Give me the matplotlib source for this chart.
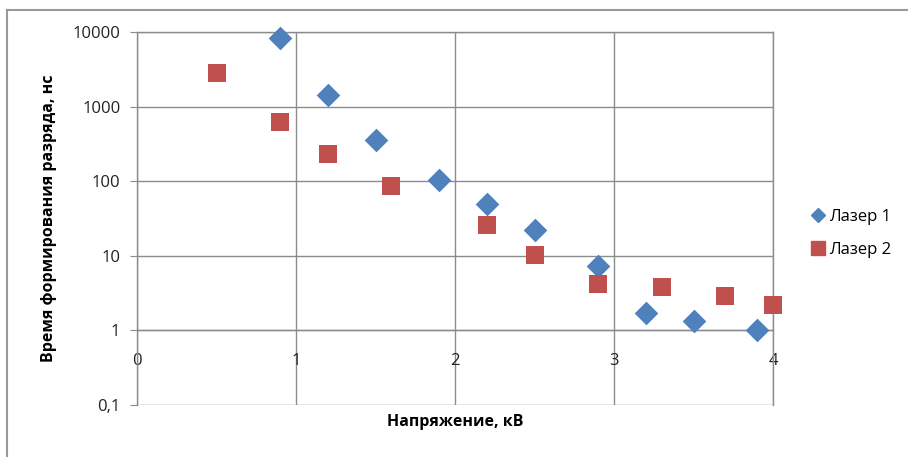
import matplotlib

matplotlib.use("Agg")
import matplotlib.pyplot as plt
from matplotlib.lines import Line2D
from matplotlib.ticker import FixedLocator, FixedFormatter, NullLocator

plt.rcParams["font.family"] = ["Open Sans", "DejaVu Sans"]

# data
laser1_kv = [0.9, 1.2, 1.5, 1.9, 2.2, 2.5, 2.9, 3.2, 3.5, 3.9]
laser1_ns = [8400, 1450, 360, 105, 50, 22.5, 7.2, 1.7, 1.35, 1.0]
laser2_kv = [0.5, 0.9, 1.2, 1.6, 2.2, 2.5, 2.9, 3.3, 3.7, 4.0]
laser2_ns = [2800, 630, 230, 87, 25.5, 10.4, 4.2, 3.8, 2.85, 2.2]

y_ticks = [0.1, 1, 10, 100, 1000, 10000]
y_labels = ["0,1", "1", "10", "100", "1000", "10000"]
x_ticks = [0, 1, 2, 3, 4]
series_names = ["Лазер 1", "Лазер 2"]

BLUE = "#4F81BD"
RED = "#C0504D"
GRID = "#8c8c8c"

fig = plt.figure(figsize=(9.08, 4.57), dpi=100)
ax = fig.add_axes([137 / 908, 1 - 405 / 457, 636 / 908, 373 / 457])

ax.scatter(laser1_kv, laser1_ns, marker="D", s=145, color=BLUE, zorder=3,
           linewidths=0, clip_on=False)
ax.scatter(laser2_kv, laser2_ns, marker="s", s=165, color=RED, zorder=3,
           linewidths=0, clip_on=False)

ax.set_yscale("log")
ax.set_ylim(0.1, 10000)
ax.set_xlim(0, 4)
ax.yaxis.set_major_locator(FixedLocator(y_ticks))
ax.yaxis.set_major_formatter(FixedFormatter(y_labels))
ax.yaxis.set_minor_locator(NullLocator())
ax.set_xticks(x_ticks)
ax.set_xticklabels([str(v) for v in x_ticks])

ax.grid(True, color=GRID, linewidth=1.0)
ax.set_axisbelow(True)
for side in ["left", "right", "top"]:
    ax.spines[side].set_color(GRID)
    ax.spines[side].set_linewidth(1.0)
ax.spines["bottom"].set_position(("data", 1))
ax.spines["bottom"].set_color(GRID)
ax.spines["bottom"].set_linewidth(1.0)

ax.tick_params(axis="y", length=5, color=GRID, labelsize=12, pad=7, labelcolor="#222222")
ax.tick_params(axis="x", length=0, labelsize=12, pad=16, labelcolor="#222222")

ax.set_xlabel("Напряжение, кВ", fontsize=11.5, fontweight="bold", labelpad=0)
ax.xaxis.set_label_coords(0.5, -0.025)
ax.set_ylabel("Время формирования разряда, нс", fontsize=11.5, fontweight="bold")
ax.yaxis.set_label_coords(-0.125, 0.5)

handles = [
    Line2D([], [], marker="D", linestyle="none", color=BLUE, markersize=7),
    Line2D([], [], marker="s", linestyle="none", color=RED, markersize=10),
]
fig.legend(
    handles,
    series_names,
    loc="upper left",
    bbox_to_anchor=(796 / 908, 1 - 194 / 457),
    frameon=False,
    fontsize=12,
    handlelength=0.8,
    handletextpad=0.3,
    labelspacing=1.0,
)

# outer chart frame
fig.add_artist(Line2D([7 / 908, 7 / 908], [0, 1 - 10 / 457], color="#999999", linewidth=1.5))
fig.add_artist(Line2D([7 / 908, 1], [1 - 10 / 457, 1 - 10 / 457], color="#999999", linewidth=1.5))

fig.savefig("out.png", dpi=100)
